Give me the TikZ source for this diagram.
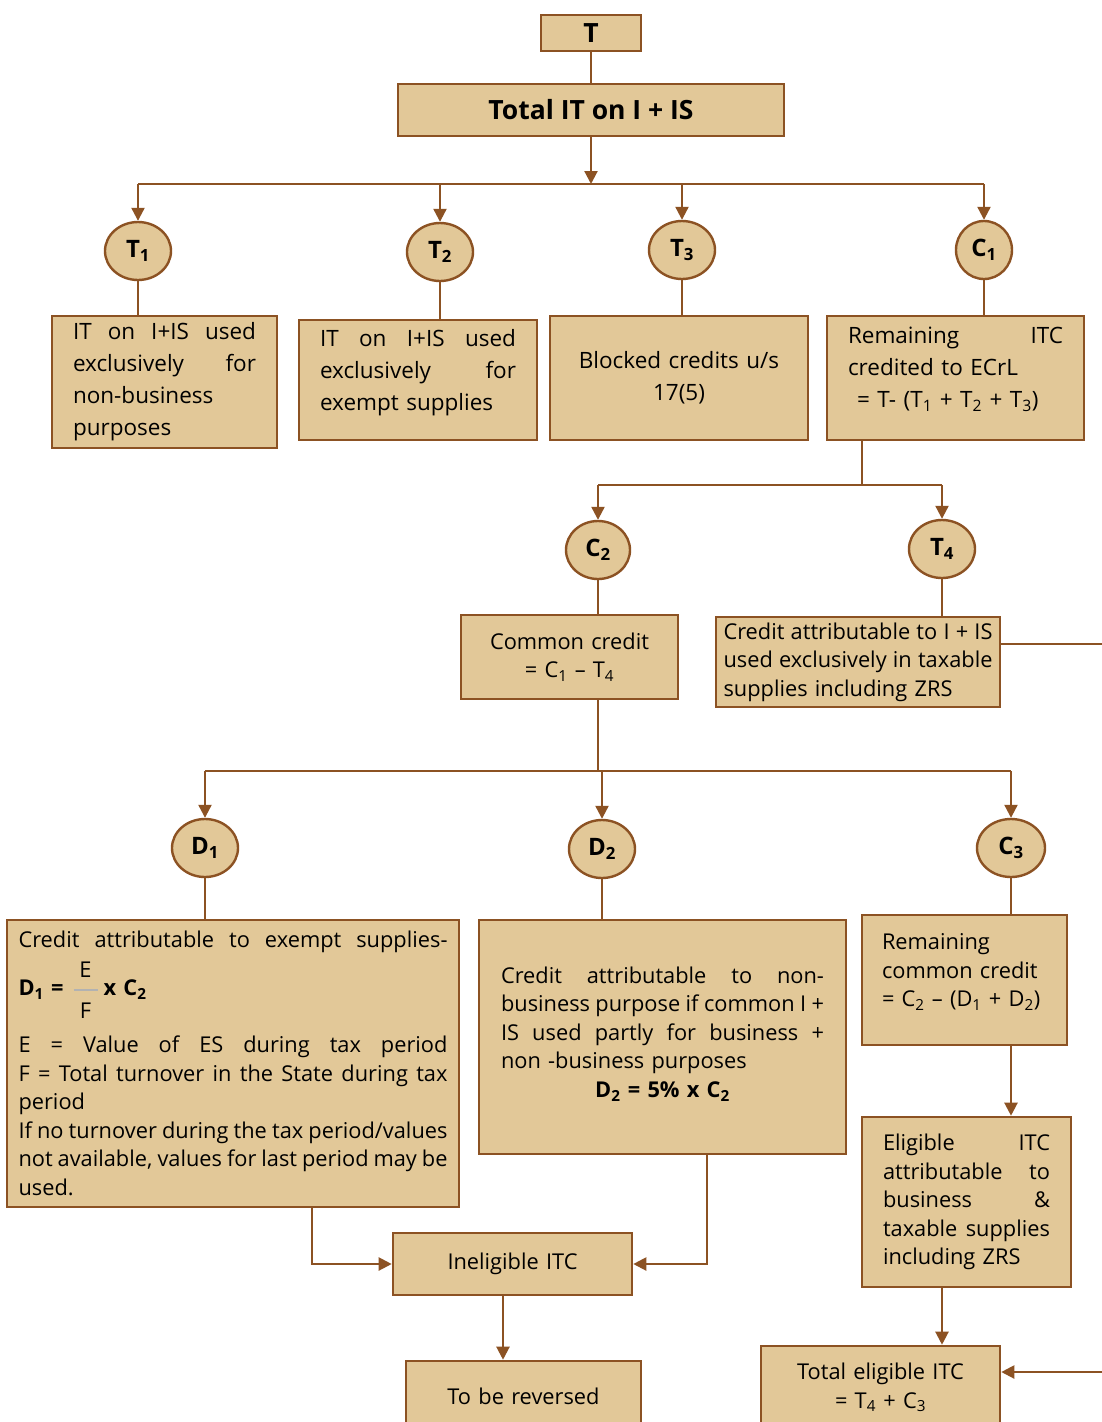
\documentclass[tikz,border=0pt]{standalone}
\usepackage{fontspec}
\setmainfont{Open Sans}
\usetikzlibrary{shapes.geometric,arrows.meta}

\definecolor{boxfill}{RGB}{226,200,152}
\definecolor{boxline}{RGB}{140,82,35}

% a line stretched to the full text width
\newcommand\jl[1]{\leavevmode\hbox to\hsize{\spaceskip=\fontdimen2\font plus 1fil minus 0.1em\relax #1}}
\newcommand\sbs[1]{\textsubscript{#1}}
% extra depth below the last line, lifting the text inside its box
\newcommand\lift[1]{\rule[-#1]{0pt}{#1}}
% stacked fraction E over F with a light bar
\newcommand\efrac{$\vcenter{\offinterlineskip\halign{\hfil##\hfil\cr
  E\cr\noalign{\kern11pt}
  \textcolor{black!30}{\rule{24pt}{2pt}}\cr\noalign{\kern12pt}
  F\cr}}$}

\tikzset{
  box/.style={rectangle, draw=boxline, fill=boxfill, line width=2.6pt,
    inner sep=0pt, align=left, font=\fontsize{22.5}{32}\selectfont},
  lowbox/.style={box, font=\fontsize{21.8}{28.5}\selectfont},
  titlebox/.style={rectangle, draw=boxline, fill=boxfill, line width=2.6pt,
    inner sep=0pt, font=\fontsize{26.5}{30}\selectfont\bfseries},
  oval/.style={ellipse, draw=boxline, fill=boxfill, line width=2.4pt,
    inner sep=0pt, minimum width=66pt, minimum height=58pt,
    font=\fontsize{24}{28}\selectfont\bfseries},
  link/.style={draw=boxline, line width=2.2pt},
  arr/.style={link, -{Triangle[length=13pt,width=13pt]}},
}

\begin{document}
\begin{tikzpicture}[x=1pt,y=-1pt]
\useasboundingbox[fill=white] (0,0) rectangle (1102,1422);

% ---------- top ----------
\node[titlebox, minimum width=100pt, minimum height=36pt] (T) at (591,33) {T};
\node[titlebox, minimum width=386pt, minimum height=52pt] (total) at (591,110) {Total IT on I + IS};

\coordinate (bus1) at (591,184);
\node[oval] (t1) at (138,251) {T\sbs{1}};
\node[oval] (t2) at (440,252) {T\sbs{2}};
\node[oval] (t3) at (682,250) {T\sbs{3}};
\node[oval, minimum width=56pt] (c1) at (984,250) {C\sbs{1}};

\node[box, minimum width=225pt, minimum height=132pt, text width=183pt] (b1) at (164.5,382)
  {\jl{IT on I+IS used}\\ \jl{exclusively for}\\ non-business\\ purposes};
\node[box, minimum width=238pt, minimum height=120pt, text width=196pt] (b2) at (418,380)
  {\jl{IT on I+IS used}\\ \jl{exclusively for}\\ exempt supplies\lift{20pt}};
\node[box, minimum width=258pt, minimum height=124pt, text width=230pt, align=center] (b3) at (679,378)
  {Blocked credits u/s\\ 17(5)};
\node[box, minimum width=257pt, minimum height=124pt, text width=215pt] (b4) at (955.5,378)
  {\jl{Remaining ITC}\\ credited to ECrL\\ \hspace*{9pt}= T- (T\sbs{1} + T\sbs{2} + T\sbs{3})\lift{22pt}};

\draw[link] (T) -- (total);
\draw[arr] (total) -- (bus1);
\draw[link] (t1 |- bus1) -- (c1 |- bus1);
\foreach \n in {t1,t2,t3,c1} \draw[arr] (\n |- bus1) -- (\n);
\draw[link] (t1) -- (t1 |- b1.north);
\draw[link] (t2) -- (t2 |- b2.north);
\draw[link] (t3) -- (t3 |- b3.north);
\draw[link] (c1) -- (c1 |- b4.north);

% ---------- second level ----------
\coordinate (bus2) at (862,485);
\node[oval, minimum width=64pt] (c2) at (598,550) {C\sbs{2}};
\node[oval] (t4) at (942,549) {T\sbs{4}};

\node[lowbox, minimum width=217pt, minimum height=84pt, text width=200pt, align=center] (cc) at (569.5,657)
  {Common credit\\ = C\sbs{1} -- T\sbs{4}};
\node[lowbox, minimum width=284pt, minimum height=90pt, text width=269pt] (t4b) at (858,662)
  {\jl{Credit attributable to I + IS}\\ \jl{used exclusively in taxable}\\ supplies including ZRS};

\draw[link] (b4.south -| bus2) -- (bus2);
\draw[link] (c2 |- bus2) -- (t4 |- bus2);
\draw[arr] (c2 |- bus2) -- (c2);
\draw[arr] (t4 |- bus2) -- (t4);
\draw[link] (c2) -- (c2 |- cc.north);
\draw[link] (t4) -- (t4 |- t4b.north);

% ---------- third level ----------
\coordinate (bus3) at (598,771);
\node[oval] (d1) at (205,848) {D\sbs{1}};
\node[oval] (d2) at (602,849) {D\sbs{2}};
\node[oval, minimum width=68pt] (c3) at (1011,848) {C\sbs{3}};

\node[lowbox, minimum width=452pt, minimum height=287pt, text width=429pt] (d1b) at (233,1063.5)
  {\jl{Credit attributable to exempt supplies-}\\[8pt]
   \textbf{D\sbs{1} =}\hspace{10pt}\efrac\hspace{6pt}\textbf{x C\sbs{2}}\\[17pt]
   \jl{E = Value of ES during tax period}\\
   \jl{F = Total turnover in the State during tax}\\
   period\\
   \jl{If no turnover during the tax period/values}\\
   \jl{not available, values for last period may be}\\
   used.};
\node[lowbox, minimum width=367pt, minimum height=234pt, text width=323pt] (d2b) at (662.5,1037)
  {\jl{Credit attributable to non-}\\
   \jl{business purpose if common I +}\\
   \jl{IS used partly for business +}\\
   non -business purposes\\
   \makebox[\hsize][c]{\textbf{D\sbs{2} = 5\% x C\sbs{2}}}\lift{10pt}};
\node[lowbox, minimum width=205pt, minimum height=130pt, text width=165pt] (c3b) at (964.5,980)
  {Remaining\\ common credit\\ = C\sbs{2} -- (D\sbs{1} + D\sbs{2})\lift{20pt}};
\node[lowbox, minimum width=209pt, minimum height=170pt, text width=167pt] (elig) at (966.5,1202)
  {\jl{Eligible ITC}\\ \jl{attributable to}\\ \jl{business \&}\\ \jl{taxable supplies}\\ including ZRS};

\draw[link] (cc.south -| bus3) -- (bus3);
\draw[link] (d1 |- bus3) -- (c3 |- bus3);
\foreach \n in {d1,d2,c3} \draw[arr] (\n |- bus3) -- (\n);
\draw[link] (d1) -- (d1 |- d1b.north);
\draw[link] (d2) -- (d2 |- d2b.north);
\draw[link] (c3) -- (c3 |- c3b.north);

% ---------- bottom ----------
\coordinate (k1) at (312,0);
\coordinate (k2) at (707,0);
\coordinate (k3) at (503,0);
\node[lowbox, minimum width=239pt, minimum height=62pt, text width=220pt, align=center] (inel) at (512.5,1264) {Ineligible ITC};
\node[lowbox, minimum width=235pt, minimum height=70pt, text width=220pt, align=center] (rev) at (523.5,1396) {To be reversed};
\node[lowbox, minimum width=239pt, minimum height=83pt, text width=220pt, align=center] (tot) at (880.5,1387.5)
  {Total eligible ITC\\ = T\sbs{4} + C\sbs{3}};

\draw[arr] (d1b.south -| k1) |- (inel.west);
\draw[arr] (d2b.south -| k2) |- (inel.east);
\draw[arr] (inel.south -| k3) -- (rev.north -| k3);
\draw[arr] (c3b.south -| c3) -- (elig.north -| c3);
\draw[arr] (elig.south -| t4) -- (tot.north -| t4);

% taxable-supply credit carried round the right edge into the total
\coordinate (rA) at (1130,644);
\coordinate (rB) at (0,1372);
\draw[arr] (t4b.east |- rA) -- (rA) |- (tot.east |- rB);
\end{tikzpicture}
\end{document}
